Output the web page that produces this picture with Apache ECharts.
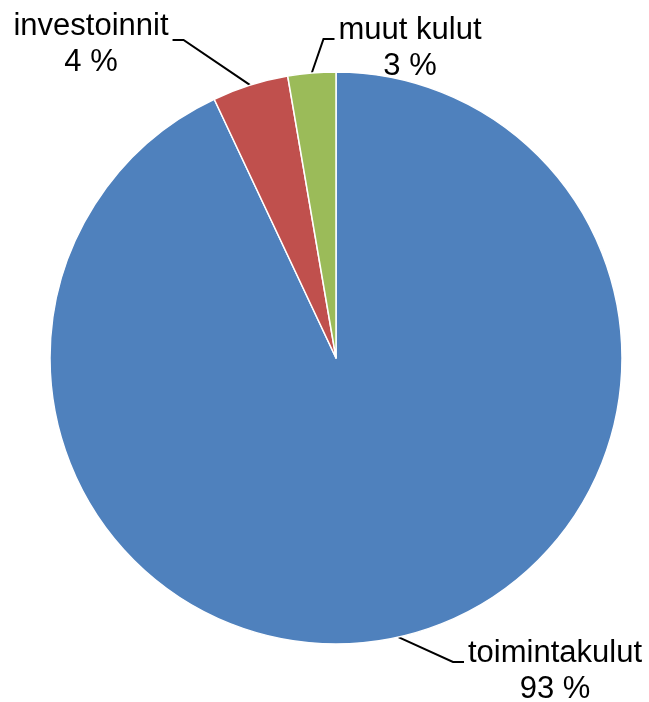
<!DOCTYPE html>
<html>
<head>
<meta charset="utf-8">
<script src="https://cdn.jsdelivr.net/npm/echarts@6/dist/echarts.min.js"></script>
<style>
  html, body { margin: 0; padding: 0; background: #fff; }
  #chart { width: 649px; height: 702px; }
</style>
</head>
<body>
<div id="chart"></div>
<script>
// data
const categories = ['toimintakulut', 'investoinnit', 'muut kulut']
const values = [93.0, 4.3, 2.7]
const colors = ['#4f81bd', '#c0504d', '#9bbb59']

// where each label sits (centre of the text block) and which side the leader enters
const labelPlaces = [
  { x: 555, y: 671, lineY: 662, side: 'left' },
  { x: 91, y: 44, lineY: 40, side: 'right' },
  { x: 410, y: 48, lineY: 39, side: 'left' }
]

const labelFont = '31px "Liberation Sans", Arial, sans-serif'

// width of the longest line of a label
const measureCtx = document.createElement('canvas').getContext('2d')
function textWidth(str) {
  measureCtx.font = labelFont
  let w = 0
  str.split('\n').forEach(function (line) {
    w = Math.max(w, measureCtx.measureText(line).width)
  })
  return w
}

const chart = echarts.init(document.getElementById('chart'))

const seriesData = []
for (let i = 0; i < categories.length; i++) {
  seriesData.push({
    name: categories[i],
    value: values[i],
    itemStyle: { color: colors[i] }
  })
}

const option = {
  animation: false,
  series: [
    {
      type: 'pie',
      center: [336, 358],
      radius: 286,
      startAngle: 90,
      clockwise: true,
      data: seriesData,
      itemStyle: {
        borderColor: '#ffffff',
        borderWidth: 1.5
      },
      label: {
        show: true,
        position: 'outside',
        color: '#000',
        fontFamily: '"Liberation Sans", Arial, sans-serif',
        fontSize: 31,
        lineHeight: 36,
        align: 'center',
        overflow: 'none',
        width: 220,
        formatter: function (p) {
          return p.name + '\n' + Math.round(p.percent) + ' %'
        }
      },
      labelLine: {
        show: true,
        length: 20,
        length2: 10,
        lineStyle: { color: '#000', width: 2 }
      },
      labelLayout: function (params) {
        const place = labelPlaces[params.dataIndex]
        const w = textWidth(categories[params.dataIndex])
        const start = params.labelLinePoints ? params.labelLinePoints[0] : [place.x, place.y]
        let endX, elbowX
        if (place.side === 'left') {
          endX = place.x - w / 2 - 4
          elbowX = endX - 11
        } else {
          endX = place.x + w / 2 + 4
          elbowX = endX + 11
        }
        return {
          x: place.x,
          y: place.y,
          align: 'center',
          verticalAlign: 'middle',
          labelLinePoints: [start, [elbowX, place.lineY], [endX, place.lineY]]
        }
      }
    }
  ]
}

chart.setOption(option)
</script>
</body>
</html>
